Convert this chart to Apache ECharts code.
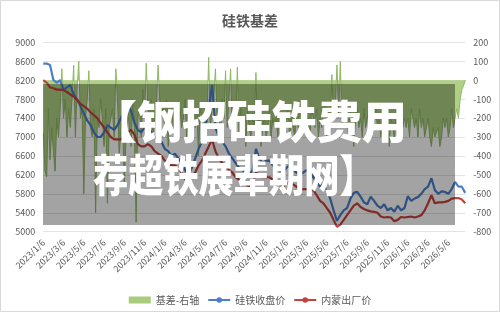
<!DOCTYPE html>
<html><head><meta charset="utf-8">
<script src="https://cdn.jsdelivr.net/npm/echarts@6/dist/echarts.min.js"></script>
<style>html,body{margin:0;padding:0;background:#fff}#c{width:500px;height:312px}</style>
</head><body><div id="c"></div>
<script>
// main categories (3 per month)
var categories = [
"2023/1/6","2023/1/16","2023/1/26","2023/2/6","2023/2/16","2023/2/26","2023/3/6","2023/3/16","2023/3/26","2023/4/6","2023/4/16","2023/4/26",
"2023/5/6","2023/5/16","2023/5/26","2023/6/6","2023/6/16","2023/6/26","2023/7/6","2023/7/16","2023/7/26","2023/8/6","2023/8/16","2023/8/26",
"2023/9/6","2023/9/16","2023/9/26","2023/10/6","2023/10/16","2023/10/26","2023/11/6","2023/11/16","2023/11/26","2023/12/6","2023/12/16","2023/12/26",
"2024/1/6","2024/1/16","2024/1/26","2024/2/6","2024/2/16","2024/2/26","2024/3/6","2024/3/16","2024/3/26","2024/4/6","2024/4/16","2024/4/26",
"2024/5/6","2024/5/16","2024/5/26","2024/6/6","2024/6/16","2024/6/26","2024/7/6","2024/7/16","2024/7/26","2024/8/6","2024/8/16","2024/8/26",
"2024/9/6","2024/9/16","2024/9/26","2024/10/6","2024/10/16","2024/10/26","2024/11/6","2024/11/16","2024/11/26","2024/12/6","2024/12/16","2024/12/26",
"2025/1/6","2025/1/16","2025/1/26","2025/2/6","2025/2/16","2025/2/26","2025/3/6","2025/3/16","2025/3/26","2025/4/6","2025/4/16","2025/4/26",
"2025/5/6","2025/5/16","2025/5/26","2025/6/6","2025/6/16","2025/6/26","2025/7/6","2025/7/16","2025/7/26","2025/8/6","2025/8/16","2025/8/26",
"2025/9/6","2025/9/16","2025/9/26","2025/10/6","2025/10/16","2025/10/26","2025/11/6","2025/11/16","2025/11/26","2025/12/6","2025/12/16","2025/12/26",
"2026/1/6","2026/1/16","2026/1/26","2026/2/6","2026/2/16","2026/2/26","2026/3/6","2026/3/16","2026/3/26","2026/4/6","2026/4/16","2026/4/26",
"2026/5/6","2026/5/16","2026/5/26","2026/6/6","2026/6/16","2026/6/26"];

// basis categories (6 per month)
var basisCategories = [
"2023/1/6","2023/1/11","2023/1/16","2023/1/21","2023/1/26",
"2023/2/1","2023/2/6","2023/2/11","2023/2/16","2023/2/21","2023/2/26","2023/3/1","2023/3/6","2023/3/11","2023/3/16","2023/3/21","2023/3/26",
"2023/4/1","2023/4/6","2023/4/11","2023/4/16","2023/4/21","2023/4/26","2023/5/1","2023/5/6","2023/5/11","2023/5/16","2023/5/21","2023/5/26",
"2023/6/1","2023/6/6","2023/6/11","2023/6/16","2023/6/21","2023/6/26","2023/7/1","2023/7/6","2023/7/11","2023/7/16","2023/7/21","2023/7/26",
"2023/8/1","2023/8/6","2023/8/11","2023/8/16","2023/8/21","2023/8/26","2023/9/1","2023/9/6","2023/9/11","2023/9/16","2023/9/21","2023/9/26",
"2023/10/1","2023/10/6","2023/10/11","2023/10/16","2023/10/21","2023/10/26","2023/11/1","2023/11/6","2023/11/11","2023/11/16","2023/11/21","2023/11/26",
"2023/12/1","2023/12/6","2023/12/11","2023/12/16","2023/12/21","2023/12/26",
"2024/1/1","2024/1/6","2024/1/11","2024/1/16","2024/1/21","2024/1/26","2024/2/1","2024/2/6","2024/2/11","2024/2/16","2024/2/21","2024/2/26",
"2024/3/1","2024/3/6","2024/3/11","2024/3/16","2024/3/21","2024/3/26","2024/4/1","2024/4/6","2024/4/11","2024/4/16","2024/4/21","2024/4/26",
"2024/5/1","2024/5/6","2024/5/11","2024/5/16","2024/5/21","2024/5/26","2024/6/1","2024/6/6","2024/6/11","2024/6/16","2024/6/21","2024/6/26",
"2024/7/1","2024/7/6","2024/7/11","2024/7/16","2024/7/21","2024/7/26","2024/8/1","2024/8/6","2024/8/11","2024/8/16","2024/8/21","2024/8/26",
"2024/9/1","2024/9/6","2024/9/11","2024/9/16","2024/9/21","2024/9/26","2024/10/1","2024/10/6","2024/10/11","2024/10/16","2024/10/21","2024/10/26",
"2024/11/1","2024/11/6","2024/11/11","2024/11/16","2024/11/21","2024/11/26","2024/12/1","2024/12/6","2024/12/11","2024/12/16","2024/12/21","2024/12/26",
"2025/1/1","2025/1/6","2025/1/11","2025/1/16","2025/1/21","2025/1/26","2025/2/1","2025/2/6","2025/2/11","2025/2/16","2025/2/21","2025/2/26",
"2025/3/1","2025/3/6","2025/3/11","2025/3/16","2025/3/21","2025/3/26","2025/4/1","2025/4/6","2025/4/11","2025/4/16","2025/4/21","2025/4/26",
"2025/5/1","2025/5/6","2025/5/11","2025/5/16","2025/5/21","2025/5/26","2025/6/1","2025/6/6","2025/6/11","2025/6/16","2025/6/21","2025/6/26",
"2025/7/1","2025/7/6","2025/7/11","2025/7/16","2025/7/21","2025/7/26","2025/8/1","2025/8/6","2025/8/11","2025/8/16","2025/8/21","2025/8/26",
"2025/9/1","2025/9/6","2025/9/11","2025/9/16","2025/9/21","2025/9/26","2025/10/1","2025/10/6","2025/10/11","2025/10/16","2025/10/21","2025/10/26",
"2025/11/1","2025/11/6","2025/11/11","2025/11/16","2025/11/21","2025/11/26","2025/12/1","2025/12/6","2025/12/11","2025/12/16","2025/12/21","2025/12/26",
"2026/1/1","2026/1/6","2026/1/11","2026/1/16","2026/1/21","2026/1/26","2026/2/1","2026/2/6","2026/2/11","2026/2/16","2026/2/21","2026/2/26",
"2026/3/1","2026/3/6","2026/3/11","2026/3/16","2026/3/21","2026/3/26","2026/4/1","2026/4/6","2026/4/11","2026/4/16","2026/4/21","2026/4/26",
"2026/5/1","2026/5/6","2026/5/11","2026/5/16","2026/5/21","2026/5/26","2026/6/1","2026/6/6","2026/6/11","2026/6/16","2026/6/21","2026/6/26"];

var futuresClose = [
8550,8550,8520,8200,8150,8200,8000,8050,8100,7900,7800,7650,
7500,7350,7250,7100,7000,7000,7100,7250,7200,7150,7250,7400,
7550,7700,7550,7300,7150,7100,7200,7250,7100,7000,6950,6900,
6750,6700,6600,6650,6550,6450,6300,6200,6350,6550,6750,6900,
7200,7600,8100,7200,7000,6900,6800,6650,6550,6450,6350,6300,
6250,6200,6300,6750,6550,6450,6500,6500,6400,6350,6300,6250,
6350,6400,6300,6250,6200,6250,6300,6250,6150,6050,5950,6000,
5850,5700,5450,5230,5350,5450,5500,5700,5820,5840,5740,5620,
5580,5740,5650,5550,5500,5580,5450,5500,5420,5550,5450,5500,
5750,5650,5700,5730,5800,5900,5950,6130,5880,5800,5850,5840,
5800,5900,6050,5950,5950,5820];

var innerMongoliaPrice = [
8200,8150,8050,8030,8000,8000,7990,7950,7900,7850,7780,7700,
7650,7600,7520,7460,7400,7300,7200,7100,7000,6950,6950,6950,
7000,7100,7150,7050,6850,6800,6800,6850,6800,6700,6650,6600,
6500,6450,6400,6400,6350,6250,6100,6050,6150,6250,6400,6500,
6650,6800,6950,6700,6550,6450,6400,6300,6250,6150,6100,6050,
6000,5950,6000,6250,6200,6150,6150,6150,6100,6050,6000,5950,
6000,6050,6000,5950,5900,5900,5900,5900,5880,5770,5650,5600,
5500,5400,5250,5105,5150,5250,5350,5450,5550,5600,5520,5480,
5450,5430,5420,5400,5320,5300,5310,5300,5220,5250,5310,5300,
5310,5320,5300,5320,5350,5450,5600,5770,5600,5620,5620,5630,
5650,5700,5710,5710,5680,5600];

var basis = [
-280,-480,-510,-150,-420,
-250,-380,-480,-200,-300,-150,
60,-200,-100,-300,-150,-250,
-100,80,-300,-50,100,-200,
-150,-600,-200,-100,50,-250,
-300,-150,-700,-200,-250,-100,
-200,-350,-150,-650,-250,-200,
-150,-300,60,-100,-400,-250,
-200,-550,-300,-150,-250,-350,
-100,-250,-750,-200,-150,-300,
-50,-200,90,-150,-250,-100,
-300,-200,-150,80,-100,-200,
-150,-250,-100,-350,-200,-150,
-250,-150,-200,-300,-150,-250,
-200,-100,-300,-150,-250,-200,
-100,-250,-150,-400,-150,-200,
-300,-150,-200,120,-250,-150,
-100,60,-200,-150,-300,-100,
-200,50,-250,-100,60,-300,
-150,-250,70,-300,-150,-250,
-200,-350,-150,-250,-300,-200,
-250,40,-300,-200,-350,-250,
-200,-300,-250,-150,-300,-200,
-250,-200,-300,-150,-250,-300,
-200,-250,-150,-300,-200,-250,
-300,-200,-250,-150,-250,-200,
-150,-250,-200,-300,-150,-200,
-250,-150,-300,-200,-250,-150,
-200,-300,-150,-250,30,-200,
-150,80,-200,100,-250,-150,
-100,-200,-300,-150,-250,-350,
-200,-150,-250,-200,-300,-150,
-250,-200,-150,-300,-200,-250,
-150,-250,-200,-300,-250,-200,
-300,-250,-350,-200,-250,-300,
-200,-300,-250,-150,-250,-200,
-250,-200,-300,-150,-200,-250,
-200,-300,-150,-250,-200,-300,
-250,-200,-300,-350,-250,-300,
-300,-250,-350,-300,-200,-250,
-200,-300,-250,-150,-250,-200,
-150,-200,-100,-50,-30,0];

var leftTicks = {min:5000, max:9000, step:400};
var rightTicks = {min:-800, max:200, step:100};

var chart = echarts.init(document.getElementById('c'), null, {renderer:'canvas'});
var FONT = '"Noto Sans CJK SC","Microsoft YaHei",sans-serif';
var gridL = 43.3, gridR = 34.8, gridT = 42.3, gridB = 80.3;
chart.setOption({
  animation:false,
  backgroundColor:'#fff',
  title:{text:'硅铁基差', left:'center', top:9, textStyle:{fontSize:14, fontWeight:'bold', color:'#595959', fontFamily:FONT}},
  grid:{left:gridL, right:gridR, top:gridT, bottom:gridB, containLabel:false},
  legend:{bottom:2, left:'center', itemWidth:22, itemHeight:7, itemGap:8,
    textStyle:{fontSize:10, color:'#595959', fontFamily:FONT},
    data:[{name:'基差-右轴', icon:'rect'}, {name:'硅铁收盘价'}, {name:'内蒙出厂价'}]},
  xAxis:[
    {type:'category', data:categories, boundaryGap:false,
     axisLine:{lineStyle:{color:'#d9d9d9'}},
     axisTick:{show:true, interval:5, length:4, lineStyle:{color:'#d9d9d9'}},
     axisLabel:{interval:5, rotate:45, fontSize:9, color:'#595959', margin:9, fontFamily:FONT},
     splitLine:{show:false}},
    {type:'category', data:basisCategories, boundaryGap:false, show:false}
  ],
  yAxis:[
    {type:'value', min:leftTicks.min, max:leftTicks.max, interval:leftTicks.step,
     axisLine:{show:false}, axisTick:{show:false},
     axisLabel:{fontSize:9, color:'#595959', margin:8, fontFamily:FONT, formatter:function(v){return String(v);}},
     splitLine:{lineStyle:{color:'#e3e3e3'}}},
    {type:'value', min:rightTicks.min, max:rightTicks.max, interval:rightTicks.step,
     axisLine:{show:false}, axisTick:{show:false},
     axisLabel:{fontSize:9, color:'#595959', margin:8, fontFamily:FONT, formatter:function(v){return String(v);}},
     splitLine:{show:false}}
  ],
  series:[
    {name:'基差-右轴', type:'line', xAxisIndex:1, yAxisIndex:1, data:basis, symbol:'none',
     lineStyle:{width:1, color:'#8fb862'}, itemStyle:{color:'#a9cb7c'},
     areaStyle:{color:'#b0d084', opacity:1, origin:0}, z:1},
    {name:'硅铁收盘价', type:'line', xAxisIndex:0, yAxisIndex:0, data:futuresClose, symbol:'none',
     lineStyle:{width:2.2, color:'#4a7fcc'}, itemStyle:{color:'#4a7fcc'}, z:3},
    {name:'内蒙出厂价', type:'line', xAxisIndex:0, yAxisIndex:0, data:innerMongoliaPrice, symbol:'none',
     lineStyle:{width:2.2, color:'#c8423d'}, itemStyle:{color:'#c8423d'}, z:4}
  ],
  graphic:[
    {type:'rect', shape:{x:0.5, y:0.5, width:499, height:311}, style:{fill:'none', stroke:'#d9d9d9', lineWidth:1}, z:100, silent:true},
    {type:'rect', shape:{x:43, y:84, width:412, height:141}, style:{fill:'rgba(0,0,0,0.36)'}, z:100, silent:true},
    {type:'text', x:92, y:99, style:{text:'【钢招硅铁费用', font:'900 45px "Noto Sans CJK SC"', fill:'#ffffff'}, z:101, silent:true},
    {type:'text', x:93, y:153, scaleX:0.8, style:{text:'荐超铁展辈期网】', font:'900 44px "Noto Sans CJK SC"', fill:'#ffffff'}, z:101, silent:true}
  ]
});
</script></body></html>
